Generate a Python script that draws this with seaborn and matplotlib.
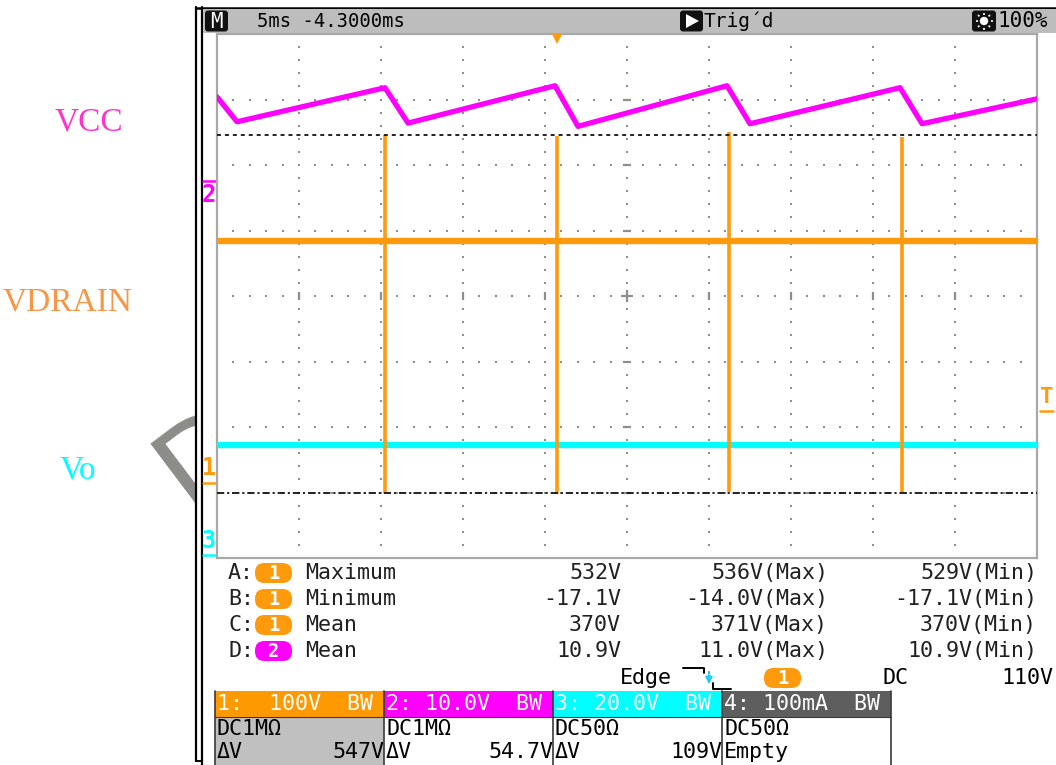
import numpy as np
import pandas as pd
import matplotlib
matplotlib.use("Agg")
import matplotlib.pyplot as plt
import matplotlib.transforms as mtransforms
from matplotlib.patches import Rectangle, FancyBboxPatch, Polygon, Circle
import seaborn as sns

sns.set_theme(style="white")
MONO = ['DejaVu Sans Mono', 'DejaVu Sans']
plt.rcParams['font.family'] = MONO

# ---------------- acquisition settings ----------------
TIME_PER_DIV = 5.0            # ms / div
N_HDIV, N_VDIV = 10, 8
ch_scale = {1: 100.0, 2: 10.0, 3: 20.0}      # V / div
ch_ground = {1: -2.855, 2: 1.76, 3: -3.96}   # ground marker, div from centre
trigger_level = 110.0                        # V on ch1
trigger_time = 20.73                         # ms

# ---------------- waveforms ----------------
# CH1 : VDRAIN, flat plateau with switching spikes
vdrain_t = [0.0, 50.0]
vdrain_v = [370.0, 370.0]
spike_times = [10.24, 20.73, 31.22, 41.77]
spike_max = [532.0, 530.0, 536.0, 529.0]
spike_min = [-15.0, -17.1, -14.0, -15.5]

# CH2 : VCC sawtooth corners
vcc_t = [0.0, 1.22, 10.24, 11.65, 20.61, 22.01, 31.10, 32.50, 41.65, 42.99, 50.0]
vcc_v = [12.8, 9.0, 14.2, 8.8, 14.5, 8.3, 14.5, 8.7, 14.2, 8.7, 12.5]

# CH3 : Vo
vo_t = [0.0, 50.0]
vo_v = [33.8, 33.8]

# horizontal cursors on ch1
cursor_a = 532.0
cursor_b = -15.0

# ---------------- readouts ----------------
meas_letters = ['A', 'B', 'C', 'D']
meas_ch = [1, 1, 1, 2]
meas_names = ['Maximum', 'Minimum', 'Mean', 'Mean']
meas_value = ['532V', '-17.1V', '370V', '10.9V']
meas_max = ['536V(Max)', '-14.0V(Max)', '371V(Max)', '11.0V(Max)']
meas_min = ['529V(Min)', '-17.1V(Min)', '370V(Min)', '10.9V(Min)']

ch_headers = ['1:  100V  BW', '2: 10.0V  BW', '3: 20.0V  BW', '4: 100mA  BW']
ch_coupling = ['DC1M\u03a9', 'DC1M\u03a9', 'DC50\u03a9', 'DC50\u03a9']
ch_delta = ['547V', '54.7V', '109V', '']
ch_box_colors = ['#ff9900', '#ff00ff', '#00ffff', '#5e5e5e']

signal_names = ['VCC', 'VDRAIN', 'Vo']
signal_colors = ['#ff33cc', '#f79646', '#00ffff']

ORANGE, MAGENTA, CYAN = '#ff9a0d', '#ff00ff', '#00ffff'
TXT = '#202020'

W, H = 1056, 765
fig = plt.figure(figsize=(W / 100, H / 100), dpi=100)

# -------- page layer (pixel coordinates) --------
bg = fig.add_axes([0, 0, 1, 1])
bg.set_xlim(0, W)
bg.set_ylim(H, 0)
bg.set_axis_off()
bg.set_zorder(0)

# faint watermark running behind the screen capture
bg.text(136, 440, 'DRAFT', rotation=37, rotation_mode='anchor',
        ha='left', va='top', fontsize=88, color='#8c8c88',
        family=['DejaVu Sans'], zorder=1)

# screen capture panel
bg.add_patch(Rectangle((196, 8), W - 196, H - 8, facecolor='white',
                       edgecolor='none', zorder=2))
bg.plot([196, 196], [7, 761], color='black', lw=1.6, zorder=3)
bg.plot([201.5, 201.5], [7, H], color='black', lw=1.6, zorder=3)
bg.plot([196, 201.5], [760.5, 760.5], color='black', lw=1.4, zorder=3)
bg.plot([196, W], [8, 8], color='black', lw=1.8, zorder=3)

# status bar
bg.add_patch(Rectangle((202.5, 9), W - 202.5, 23.5, facecolor='#bdbdbd',
                       edgecolor='none', zorder=3))
bg.add_patch(FancyBboxPatch((205, 10.5), 23, 21, boxstyle='round,pad=0,rounding_size=3',
                            facecolor='#111111', edgecolor='none', zorder=4))
bg.text(216.5, 21.5, 'M', color='white', ha='center', va='center', fontsize=15, zorder=5)
bg.text(257, 21, '5ms -4.3000ms', color='black', ha='left', va='center',
        fontsize=13.6, zorder=5)
bg.add_patch(FancyBboxPatch((680, 10.5), 23, 21, boxstyle='round,pad=0,rounding_size=3',
                            facecolor='#111111', edgecolor='none', zorder=4))
bg.add_patch(Polygon([(686, 14), (686, 28), (699, 21)], closed=True,
                     facecolor='white', edgecolor='none', zorder=5))
bg.text(704, 21, 'Trig\u00b4d', color='black', ha='left', va='center',
        fontsize=14, zorder=5)
bg.add_patch(FancyBboxPatch((972, 10.5), 24, 21, boxstyle='round,pad=0,rounding_size=3',
                            facecolor='#111111', edgecolor='none', zorder=4))
bg.add_patch(Circle((984, 21), 4.2, facecolor='white', edgecolor='none', zorder=5))
for a in np.arange(8) * np.pi / 4:
    bg.plot([984 + 6.5 * np.cos(a), 984 + 8.5 * np.cos(a)],
            [21 + 6.5 * np.sin(a), 21 + 8.5 * np.sin(a)],
            color='white', lw=1.2, zorder=5, solid_capstyle='butt')
bg.text(997, 21, '100%', color='black', ha='left', va='center', fontsize=15, zorder=5)

# signal names beside the screen
for name, col, (xc, yc) in zip(signal_names, signal_colors, [(89, 122), (68, 302), (78, 470)]):
    bg.text(xc, yc, name, color=col, ha='center', va='center', fontsize=24,
            family=['Liberation Serif', 'DejaVu Serif'], zorder=5)


def pill(x, y, label, color):
    bg.add_patch(FancyBboxPatch((x, y - 10), 37, 20, boxstyle='round,pad=0,rounding_size=9.5',
                                facecolor=color, edgecolor='none', zorder=4))
    bg.text(x + 18.5, y + 0.5, label, color='white', ha='center', va='center',
            fontsize=13.5, fontweight='bold', zorder=5)


# measurement readouts
FS = 15.6
row_y = [573, 599, 625, 651]
for i, y in enumerate(row_y):
    bg.text(228, y, meas_letters[i] + ':', color=TXT, ha='left', va='center', fontsize=FS, zorder=5)
    pill(255, y, str(meas_ch[i]), ORANGE if meas_ch[i] == 1 else MAGENTA)
    bg.text(305, y, meas_names[i], color=TXT, ha='left', va='center', fontsize=FS, zorder=5)
    bg.text(621, y, meas_value[i], color=TXT, ha='right', va='center', fontsize=FS, zorder=5)
    bg.text(828, y, meas_max[i], color=TXT, ha='right', va='center', fontsize=FS, zorder=5)
    bg.text(1037, y, meas_min[i], color=TXT, ha='right', va='center', fontsize=FS, zorder=5)

# trigger readout
ty = 678
bg.text(672, ty, 'Edge', color='black', ha='right', va='center', fontsize=FS, zorder=5)
bg.plot([683, 704, 704], [668, 668, 673], color='black', lw=1.4, zorder=5)
bg.plot([713, 713, 731], [683, 689, 689], color='black', lw=1.4, zorder=5)
bg.annotate('', xy=(709, 687), xytext=(709, 669),
            arrowprops=dict(arrowstyle='-|>', color='#22ccee', lw=1.4, mutation_scale=10), zorder=5)
pill(764, ty, '1', ORANGE)
bg.text(883, ty, 'DC', color='black', ha='left', va='center', fontsize=FS, zorder=5)
bg.text(1053, ty, f'{trigger_level:.0f}V', color='black', ha='right', va='center',
        fontsize=FS, zorder=5)

# channel setting boxes
box_x = [215, 384, 553, 722, 891]
for i in range(4):
    x0, x1 = box_x[i], box_x[i + 1]
    bg.add_patch(Rectangle((x0, 691), x1 - x0, 26, facecolor=ch_box_colors[i],
                           edgecolor='none', zorder=4))
    bg.add_patch(Rectangle((x0, 717), x1 - x0, H - 717,
                           facecolor='#c0c0c0' if i == 0 else 'white',
                           edgecolor='none', zorder=4))
    bg.text(x0 + 2, 704, ch_headers[i], color='white', ha='left', va='center',
            fontsize=FS, zorder=5)
    bg.text(x0 + 2, 729, ch_coupling[i], color='black', ha='left', va='center',
            fontsize=FS, zorder=5)
    if ch_delta[i]:
        bg.text(x0 + 2, 752, '\u0394V', color='black', ha='left', va='center', fontsize=FS, zorder=5)
        bg.text(x1, 752, ch_delta[i], color='black', ha='right', va='center', fontsize=FS, zorder=5)
    else:
        bg.text(x0 + 2, 752, 'Empty', color='black', ha='left', va='center', fontsize=FS, zorder=5)
for x in box_x:
    bg.plot([x, x], [691, H], color='#3a3a3a', lw=1.2, zorder=6)
bg.plot([box_x[0], box_x[-1]], [717, 717], color='#3a3a3a', lw=0.8, zorder=6)

# -------- graticule axes (time in ms, vertical in divisions) --------
gx0, gx1, gy0, gy1 = 217, 1037, 34, 558
ax = fig.add_axes([gx0 / W, 1 - gy1 / H, (gx1 - gx0) / W, (gy1 - gy0) / H])
ax.set_zorder(3)
ax.set_facecolor('white')
t_end = TIME_PER_DIV * N_HDIV


def to_div(v, ch):
    return np.asarray(v, dtype=float) / ch_scale[ch] + ch_ground[ch]


# dotted graticule
pts = set()
for k in range(1, N_HDIV):
    for j in range(1, 5 * N_VDIV):
        pts.add((k * TIME_PER_DIV, round(-N_VDIV / 2 + 0.2 * j, 3)))
for j in range(-N_VDIV // 2 + 1, N_VDIV // 2):
    for k in range(1, 5 * N_HDIV):
        pts.add((round(k * TIME_PER_DIV / 5, 3), float(j)))
grid = pd.DataFrame(sorted(pts), columns=['t', 'd'])
ax.scatter(grid['t'], grid['d'], s=2.2, marker='s', color='#8e8e8e', linewidths=0, zorder=1)
ax.plot([t_end / 2], [0], marker='+', ms=9, mew=1.6, color='#8e8e8e', zorder=1)
ax.plot([k * TIME_PER_DIV for k in range(1, N_HDIV) if k != 5], [0] * 8,
        ls='none', marker='|', ms=6, mew=1.6, color='#8e8e8e', zorder=1)
ax.plot([t_end / 2] * 6, [j for j in range(-3, 4) if j != 0],
        ls='none', marker='_', ms=6, mew=1.6, color='#8e8e8e', zorder=1)

# traces
vo_df = pd.DataFrame({'t': vo_t, 'div': to_div(vo_v, 3)})
vcc_df = pd.DataFrame({'t': vcc_t, 'div': to_div(vcc_v, 2)})
vd_df = pd.DataFrame({'t': vdrain_t, 'div': to_div(vdrain_v, 1)})
sns.lineplot(data=vo_df, x='t', y='div', ax=ax, color=CYAN, lw=4.6,
             estimator=None, sort=False, zorder=3)
sns.lineplot(data=vcc_df, x='t', y='div', ax=ax, color=MAGENTA, lw=3.8,
             estimator=None, sort=False, zorder=4)
sns.lineplot(data=vd_df, x='t', y='div', ax=ax, color=ORANGE, lw=4.6,
             estimator=None, sort=False, zorder=5)
ax.vlines(spike_times, to_div(spike_min, 1), to_div(spike_max, 1),
          color=ORANGE, lw=2.6, zorder=5)

# cursors
ax.axhline(to_div(cursor_a, 1), color='#111111', lw=1.3, ls=(0, (2.2, 2.2)), zorder=6)
ax.axhline(to_div(cursor_b, 1), color='#111111', lw=1.3, ls=(0, (4, 1.6, 1.2, 1.6)), zorder=6)

# trigger position marker
ax.plot([trigger_time], [N_VDIV / 2 - 0.07], marker='v', ms=6.5, color=ORANGE,
        mew=0, clip_on=False, zorder=7)

ax.set_xlim(0, t_end)
ax.set_ylim(-N_VDIV / 2, N_VDIV / 2)
ax.set(xticks=[], yticks=[], xlabel='', ylabel='')
for sp in ax.spines.values():
    sp.set_color('#a8a8a8')
    sp.set_linewidth(1.6)

# channel ground / trigger markers
blend = mtransforms.blended_transform_factory(ax.transAxes, ax.transData)
mx0, mx1 = (203 - gx0) / (gx1 - gx0), (215 - gx0) / (gx1 - gx0)
mxc = (mx0 + mx1) / 2
for ch, col, above in [(1, ORANGE, True), (2, MAGENTA, False), (3, CYAN, True)]:
    g = ch_ground[ch]
    ax.plot([mx0, mx1], [g, g], color=col, lw=1.8, transform=blend, clip_on=False)
    ax.text(mxc, g + (0.04 if above else -0.04), str(ch), color=col, transform=blend,
            ha='center', va='bottom' if above else 'top', fontsize=17,
            fontweight='bold', clip_on=False)
tg = to_div(trigger_level, 1)
tx0, tx1 = 1 + (1040 - gx1) / (gx1 - gx0), 1 + (1053 - gx1) / (gx1 - gx0)
ax.plot([tx0, tx1], [tg, tg], color=ORANGE, lw=1.8, transform=blend, clip_on=False)
ax.text((tx0 + tx1) / 2, tg + 0.06, 'T', color=ORANGE, transform=blend, ha='center',
        va='bottom', fontsize=16, fontweight='bold', clip_on=False)

fig.savefig('out.png', dpi=100)
